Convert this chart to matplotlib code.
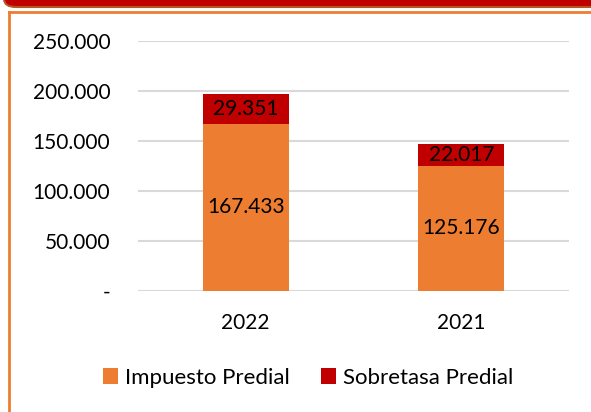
import matplotlib
matplotlib.use("Agg")
import matplotlib.pyplot as plt
from matplotlib.patches import FancyBboxPatch, Rectangle
from matplotlib.lines import Line2D

categories = ["2022", "2021"]
impuesto = [167433, 125176]
sobretasa = [29351, 22017]
yticks = [0, 50000, 100000, 150000, 200000, 250000]
ytick_labels = ["-", "50.000", "100.000", "150.000", "200.000", "250.000"]
series_names = ["Impuesto Predial", "Sobretasa Predial"]

ORANGE = "#ED7D31"
RED = "#C00000"
W, H = 591, 412

plt.rcParams['font.family'] = ['Lato', 'DejaVu Sans']
fig = plt.figure(figsize=(W / 100, H / 100), dpi=100)

# decorations: top red bar and orange frame
fig.patches.append(FancyBboxPatch((4 / W, (H - 7) / H), (W + 20) / W, 30 / H,
                                  boxstyle="round,pad=0,rounding_size=0.02",
                                  transform=fig.transFigure, facecolor=RED,
                                  edgecolor="#B8541E", linewidth=1.5, zorder=0))
fig.lines.append(Line2D([9 / W, 9 / W], [0, (H - 12) / H], transform=fig.transFigure,
                        color=ORANGE, linewidth=2))
fig.lines.append(Line2D([9 / W, 1], [(H - 12) / H, (H - 12) / H], transform=fig.transFigure,
                        color=ORANGE, linewidth=2))

ax = fig.add_axes([138 / W, 121 / H, 431 / W, 250 / H])
x = list(range(len(categories)))
bw = 0.40
b1 = ax.bar(x, impuesto, width=bw, color=ORANGE, label=series_names[0], zorder=2)
b2 = ax.bar(x, sobretasa, width=bw, bottom=impuesto, color=RED, label=series_names[1], zorder=2)

for i in x:
    ax.text(i, impuesto[i] / 2, f"{impuesto[i]:,}".replace(",", "."),
            ha="center", va="center", fontsize=15, color="black", zorder=3)
    ax.text(i, impuesto[i] + sobretasa[i] / 2, f"{sobretasa[i]:,}".replace(",", "."),
            ha="center", va="center", fontsize=15, color="black", zorder=3)

ax.set_xlim(-0.5, len(categories) - 0.5)
ax.set_ylim(0, 250000)
ax.set_yticks(yticks)
ax.set_yticklabels(ytick_labels)
ax.set_xticks(x)
ax.set_xticklabels(categories)
ax.tick_params(axis="both", length=0, labelsize=15, colors="black")
ax.tick_params(axis="y", pad=20)
ax.tick_params(axis="x", pad=16)
ax.grid(axis="y", color="#D9D9D9", linewidth=1.5, zorder=0)
ax.set_axisbelow(True)
for s in ax.spines.values():
    s.set_visible(False)

fig.legend(handles=[b1, b2], labels=series_names, loc="center",
           bbox_to_anchor=(308 / W, (H - 378) / H), ncol=2, frameon=False,
           fontsize=16, handlelength=0.7, handleheight=0.7, handletextpad=0.3,
           columnspacing=1.4)

fig.savefig("out.png", dpi=100)
